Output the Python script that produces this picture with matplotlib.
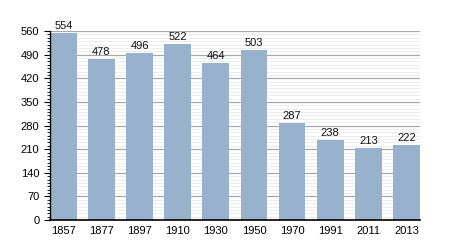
import matplotlib
matplotlib.use("Agg")
from matplotlib import pyplot as plt
from matplotlib.ticker import MultipleLocator

years = ["1857", "1877", "1897", "1910", "1930", "1950", "1970", "1991", "2011", "2013"]
population = [554, 478, 496, 522, 464, 503, 287, 238, 213, 222]

plt.rcParams['font.family'] = ['Liberation Sans', 'DejaVu Sans']

fig = plt.figure(figsize=(4.5, 2.5), dpi=100)
ax = fig.add_axes([0.111, 0.12, 0.822, 0.756])

x = range(len(years))
ax.bar(x, population, width=0.7, color='#98b1cd', zorder=2)
for i, v in enumerate(population):
    ax.text(i, v + 6, str(v), ha='center', va='bottom', fontsize=8, color='#111111')

ax.set_xlim(-0.35, len(years) - 0.65)
ax.set_ylim(0, 560)
ax.set_xticks(list(x))
ax.set_xticklabels(years)
ax.yaxis.set_major_locator(MultipleLocator(70))
ax.yaxis.set_minor_locator(MultipleLocator(10))

# darker lines every 70, faint ones every 10
ax.grid(axis='y', which='major', color='#a8a8a8', linewidth=0.9, zorder=0)
ax.grid(axis='y', which='minor', color='#ececec', linewidth=0.7, zorder=0)
ax.set_axisbelow(True)

for s in ['top', 'right']:
    ax.spines[s].set_visible(False)
ax.spines['left'].set_linewidth(1.0)
ax.spines['bottom'].set_linewidth(1.2)

ax.tick_params(axis='x', length=0, labelsize=8, pad=4)
ax.tick_params(axis='y', which='major', length=4, width=0.8, labelsize=8)
ax.tick_params(axis='y', which='minor', length=2, width=0.6)

fig.savefig("out.png", dpi=100)
